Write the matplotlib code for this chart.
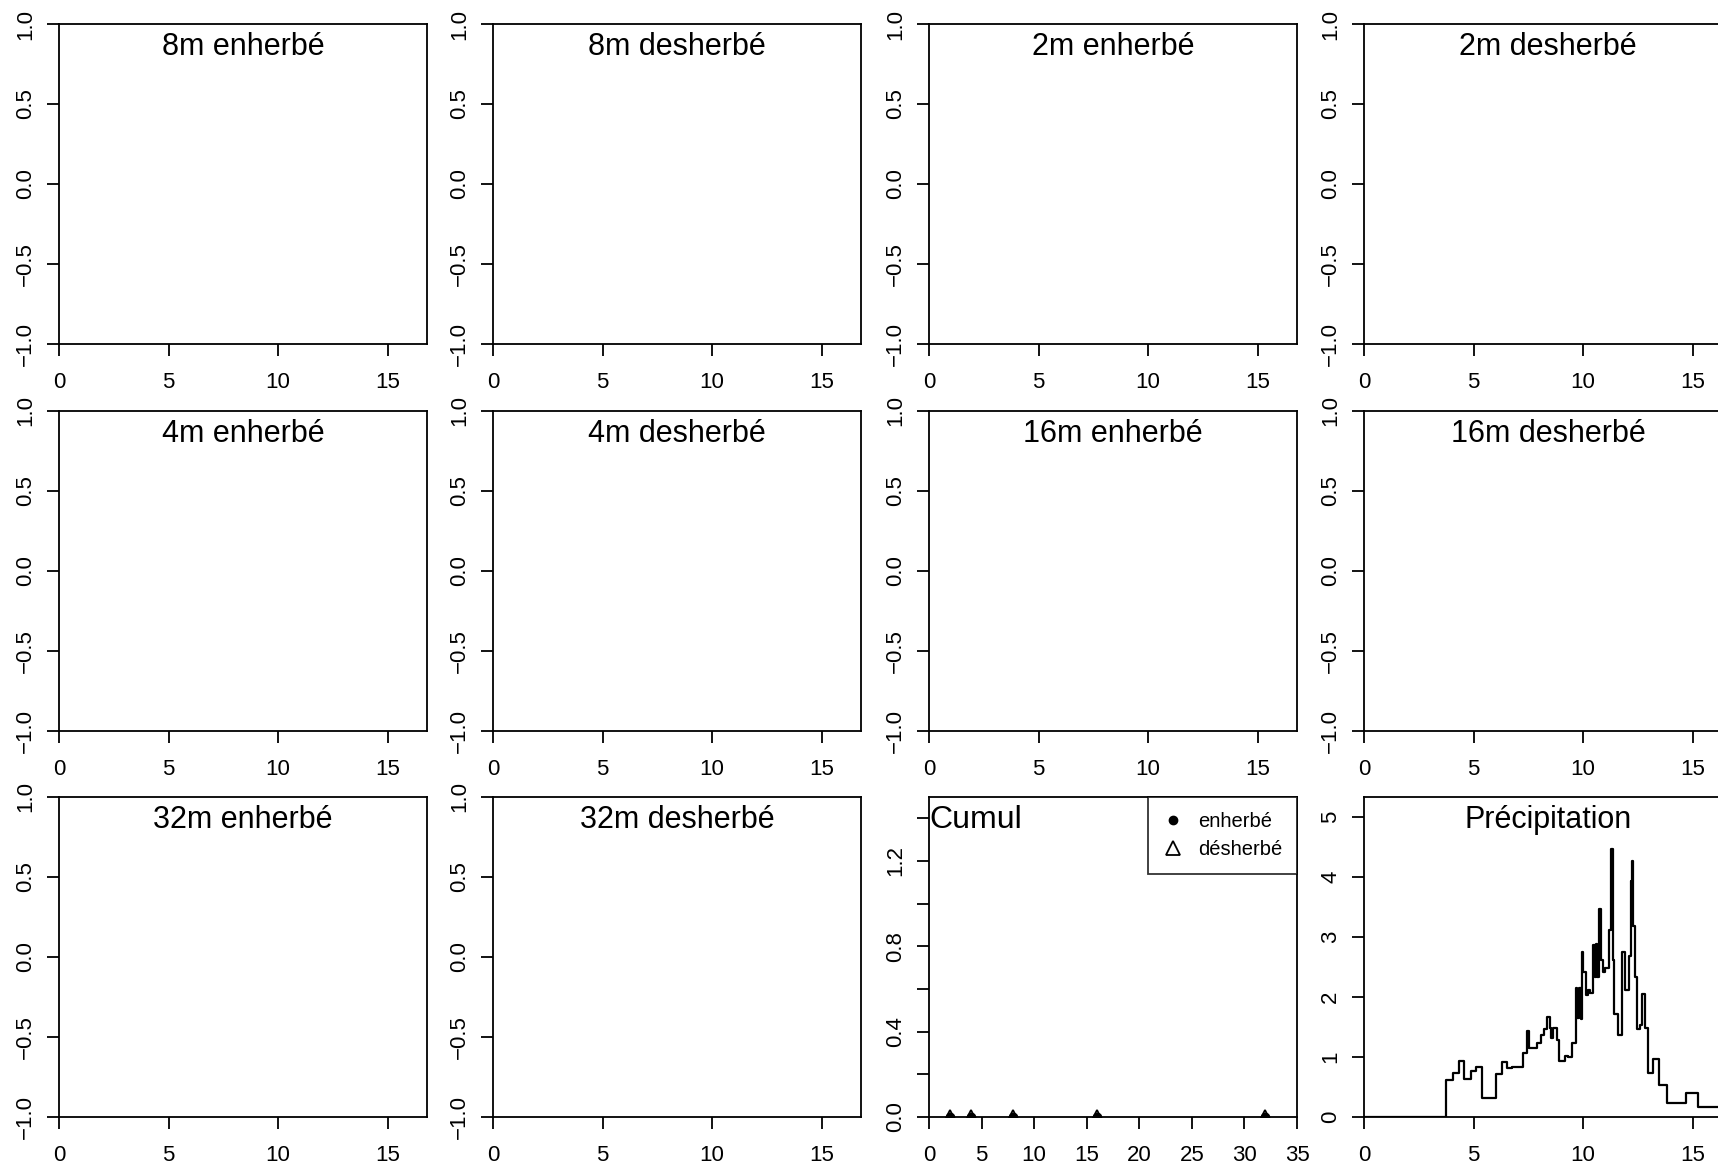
import numpy as np
import matplotlib
matplotlib.use("Agg")
import matplotlib.pyplot as plt
from matplotlib.lines import Line2D

plt.rcParams['font.family'] = ['Liberation Sans', 'DejaVu Sans']

titles = ["8m enherbé", "8m desherbé", "2m enherbé", "2m desherbé",
          "4m enherbé", "4m desherbé", "16m enherbé", "16m desherbé",
          "32m enherbé", "32m desherbé"]

x_ticks = [0, 5, 10, 15]
y_ticks = [-1.0, -0.5, 0.0, 0.5, 1.0]
y_ticklabels = ["\u22121.0", "\u22120.5", "0.0", "0.5", "1.0"]

# cumul panel
distances = [2, 4, 8, 16, 32]
cumul_enherbe = [0, 0, 0, 0, 0]
cumul_desherbe = [0, 0, 0, 0, 0]
cumul_xticks = [0, 5, 10, 15, 20, 25, 30, 35]
cumul_yticks = [0.0, 0.2, 0.4, 0.6, 0.8, 1.0, 1.2, 1.4]
cumul_yticklabels = ["0.0", "", "0.4", "", "0.8", "", "1.2", ""]

# precipitation (step curve)
precip_x = [0, 3.73, 4.08, 4.35, 4.57, 4.89, 5.10, 5.39, 6.03, 6.29,
            6.51, 6.77, 7.25, 7.43, 7.55, 7.91, 8.07, 8.23, 8.36, 8.49,
            8.54, 8.62, 8.80, 8.92, 9.18, 9.33, 9.51, 9.68, 9.74, 9.80,
            9.89, 9.94, 10.02, 10.12, 10.24, 10.32, 10.44, 10.47, 10.55, 10.59,
            10.65, 10.71, 10.81, 10.90, 11.02, 11.20, 11.26, 11.35, 11.42, 11.60,
            11.78, 11.93, 12.12, 12.19, 12.24, 12.30, 12.39, 12.45, 12.60, 12.71,
            12.82, 12.97, 13.21, 13.45, 13.85, 14.70, 15.23, 16.8]
precip_y = [0, 0.62, 0.73, 0.94, 0.64, 0.77, 0.83, 0.31, 0.72, 0.92,
            0.82, 0.84, 1.06, 1.43, 1.15, 1.23, 1.37, 1.46, 1.66, 1.48,
            1.31, 1.49, 1.29, 0.94, 1.02, 1.00, 1.23, 2.15, 1.65, 2.15,
            1.63, 2.75, 2.41, 2.04, 2.12, 2.07, 2.11, 2.86, 2.34, 2.88,
            2.34, 3.46, 2.62, 2.41, 2.48, 3.11, 4.46, 2.62, 1.71, 1.37,
            2.75, 2.12, 2.68, 3.93, 4.27, 3.18, 2.34, 1.47, 1.53, 2.05,
            1.48, 0.73, 0.96, 0.53, 0.23, 0.40, 0.17, 0.17]
precip_yticks = [0, 1, 2, 3, 4, 5]

W, H = 1718, 1171
fig = plt.figure(figsize=(W / 100, H / 100), dpi=100)

col_left = [59, 493, 929, 1364]
row_top = [24, 411, 797]
pw, ph = 368, 320


def make_axes(r, c):
    l = col_left[c]
    t = row_top[r]
    ax = fig.add_axes([l / W, 1 - (t + ph) / H, pw / W, ph / H])
    for s in ax.spines.values():
        s.set_linewidth(1.3)
        s.set_color("black")
    ax.tick_params(direction="out", length=8.5, width=1.3, labelsize=16, colors="black")
    ax.tick_params(axis="x", pad=12)
    ax.tick_params(axis="y", pad=8)
    return ax


def rotate_y(ax):
    for lab in ax.get_yticklabels():
        lab.set_rotation(90)
        lab.set_va("center")


title_y = 1 - 23 / ph

for i, t in enumerate(titles):
    r, c = divmod(i, 4)
    ax = make_axes(r, c)
    ax.set_xlim(0, 16.8)
    ax.set_ylim(-1, 1)
    ax.set_xticks(x_ticks)
    ax.set_yticks(y_ticks)
    ax.set_yticklabels(y_ticklabels)
    rotate_y(ax)
    ax.text(0.5, title_y, t, transform=ax.transAxes, ha="center", va="center", fontsize=22)

# Cumul
ax = make_axes(2, 2)
ax.plot(distances, cumul_enherbe, "o", color="black", markersize=6)
ax.plot(distances, cumul_desherbe, "^", markerfacecolor="none", markeredgecolor="black",
        markersize=10, markeredgewidth=1.3)
ax.set_xlim(0, 35)
ax.set_ylim(0, 1.5)
ax.set_xticks(cumul_xticks)
ax.set_yticks(cumul_yticks)
ax.set_yticklabels(cumul_yticklabels)
rotate_y(ax)
ax.text(0.0, title_y, "Cumul", transform=ax.transAxes, ha="left", va="center", fontsize=23)
handles = [Line2D([], [], marker="o", ls="none", color="black", markersize=6),
           Line2D([], [], marker="^", ls="none", markerfacecolor="none",
                  markeredgecolor="black", markersize=10, markeredgewidth=1.3)]
leg = ax.legend(handles, ["enherbé", "désherbé"], loc="upper right", fontsize=14.5,
                frameon=True, fancybox=False, borderaxespad=0, handlelength=1.0,
                handletextpad=0.7, borderpad=0.75, labelspacing=0.45)
leg.get_frame().set_edgecolor("black")
leg.get_frame().set_linewidth(1.3)

# Precipitation
ax = make_axes(2, 3)
ax.step(precip_x, precip_y, where="post", color="black", linewidth=1.6)
ax.set_xlim(0, 16.8)
ax.set_ylim(0, 5.33)
ax.set_xticks(x_ticks)
ax.set_yticks(precip_yticks)
rotate_y(ax)
ax.text(0.5, title_y, "Précipitation", transform=ax.transAxes, ha="center", va="center", fontsize=22)

fig.savefig("out.png", dpi=100)
